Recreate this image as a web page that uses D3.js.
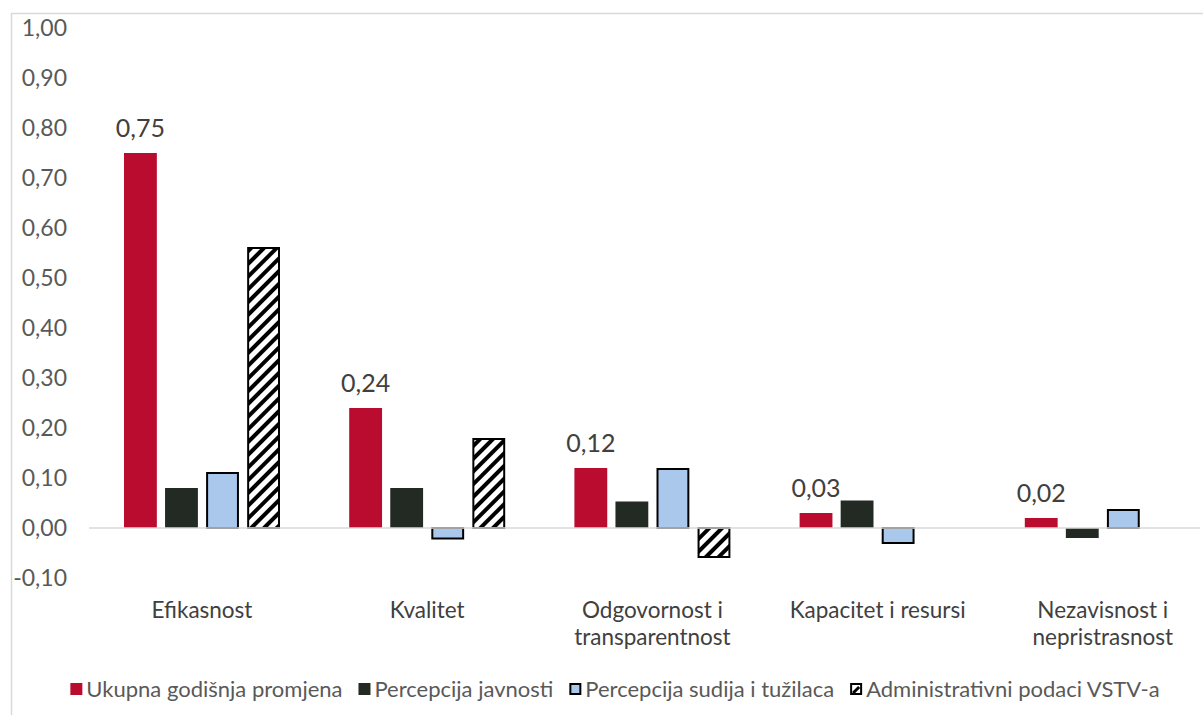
<!DOCTYPE html>
<html><head><meta charset="utf-8">
<script src="https://cdn.jsdelivr.net/npm/d3@7"></script>
<style>body{margin:0;background:#fff;} text{font-family:"Lato","Open Sans",sans-serif;}</style>
</head><body><svg id="c" width="1203" height="715"></svg>
<script>
const categories = [["Efikasnost"],["Kvalitet"],["Odgovornost i","transparentnost"],["Kapacitet i resursi"],["Nezavisnost i","nepristrasnost"]];
const seriesNames = ["Ukupna godišnja promjena","Percepcija javnosti","Percepcija sudija i tužilaca","Administrativni podaci VSTV-a"];
const ukupna = [0.75, 0.24, 0.12, 0.03, 0.02];
const javnost = [0.08, 0.08, 0.053, 0.055, -0.02];
const sudije = [0.11, -0.021, 0.118, -0.03, 0.036];
const vstv = [0.56, 0.178, -0.058, 0, 0];
const yTicks = [-0.1,0,0.1,0.2,0.3,0.4,0.5,0.6,0.7,0.8,0.9,1.0];

const svg = d3.select("#c");
const defs = svg.append("defs");
const pat = defs.append("pattern").attr("id","hatch").attr("patternUnits","userSpaceOnUse")
  .attr("width",9).attr("height",9).attr("patternTransform","rotate(45)");
pat.append("rect").attr("width",9).attr("height",9).attr("fill","#fff");
pat.append("rect").attr("x",0).attr("width",4).attr("height",9).attr("fill","#000");

svg.append("rect").attr("x",11.5).attr("y",13.5).attr("width",1200).attr("height",710)
  .attr("fill","none").attr("stroke","#d9d9d9").attr("stroke-width",1.5);

const x0 = d3.scaleBand().domain(d3.range(categories.length)).range([89,1215]).paddingInner(0).paddingOuter(0);
const x1 = d3.scaleBand().domain(d3.range(4)).range([35, 191]).paddingInner(0.2);
const y = d3.scaleLinear().domain([-0.1,1.0]).range([578,28]);

const fmt = d => d3.format(".2f")(d).replace(".",",").replace("−","-");

// y ticks
svg.append("g").selectAll("text").data(yTicks).join("text")
  .attr("x",67).attr("y",d=>y(d)).attr("dy","0.35em").attr("text-anchor","end")
  .attr("fill","#595959").attr("font-size",23)
  .text(fmt);

const colors = ["#BA0C2F","#232A23","#A9C8EC","url(#hatch)"];
const strokes = [null,null,"#000","#000"];
const data = [ukupna,javnost,sudije,vstv];

data.forEach((arr,si)=>{
  svg.append("g").selectAll("rect").data(arr.map((v,i)=>({v,i}))).join("rect")
    .filter(d=>d.v!==0)
    .attr("x",d=>x0(d.i)+x1(si)+(strokes[si]?1:0))
    .attr("y",d=>Math.min(y(d.v),y(0)))
    .attr("width",x1.bandwidth()-(strokes[si]?2:0))
    .attr("height",d=>Math.abs(y(d.v)-y(0)))
    .attr("fill",colors[si])
    .attr("stroke",strokes[si]).attr("stroke-width",strokes[si]?2:0);
});

// zero line
svg.append("line").attr("x1",89).attr("x2",1200).attr("y1",y(0)).attr("y2",y(0))
  .attr("stroke","#d9d9d9").attr("stroke-width",1.5);

// data labels
svg.append("g").selectAll("text").data(ukupna).join("text")
  .attr("x",(d,i)=>x0(i)+x1(0)+x1.bandwidth()/2).attr("y",d=>y(d)-16)
  .attr("text-anchor","middle").attr("fill","#404040").attr("font-size",25)
  .text(fmt);

// category labels
const cg = svg.append("g");
categories.forEach((lines,i)=>{
  const cx = x0(i)+x1(0)+(x1(3)+x1.bandwidth()-x1(0))/2;
  const t = cg.append("text").attr("x",cx).attr("y",618)
    .attr("text-anchor","middle").attr("fill","#404040").attr("font-size",22.5);
  lines.forEach((l,j)=>t.append("tspan").attr("x",cx).attr("dy",j?27:0).text(l));
});

// legend
const lg = svg.append("g");
const items = seriesNames.map((n,i)=>{
  const g = lg.append("g");
  g.append("rect").attr("x",(strokes[i]?1:0)).attr("y",683+(strokes[i]?1:0))
    .attr("width",strokes[i]?10:12).attr("height",strokes[i]?10:12)
    .attr("fill",i===3?"#fff":colors[i]).attr("stroke",strokes[i]).attr("stroke-width",strokes[i]?2:0);
  if(i===3){
    g.append("path").attr("d",`M3,693 L9,687`).attr("stroke","#000").attr("stroke-width",3);
  }
  const t = g.append("text").attr("x",16).attr("y",689).attr("dy","0.35em")
    .attr("fill","#595959").attr("font-size",22).text(n);
  return {g, w:16+t.node().getComputedTextLength()};
});
const gap = 16;
const total = d3.sum(items,d=>d.w)+gap*(items.length-1);
let cx = 615 - total/2;
items.forEach(it=>{ it.g.attr("transform",`translate(${cx},0)`); cx += it.w+gap; });
</script></body></html>
